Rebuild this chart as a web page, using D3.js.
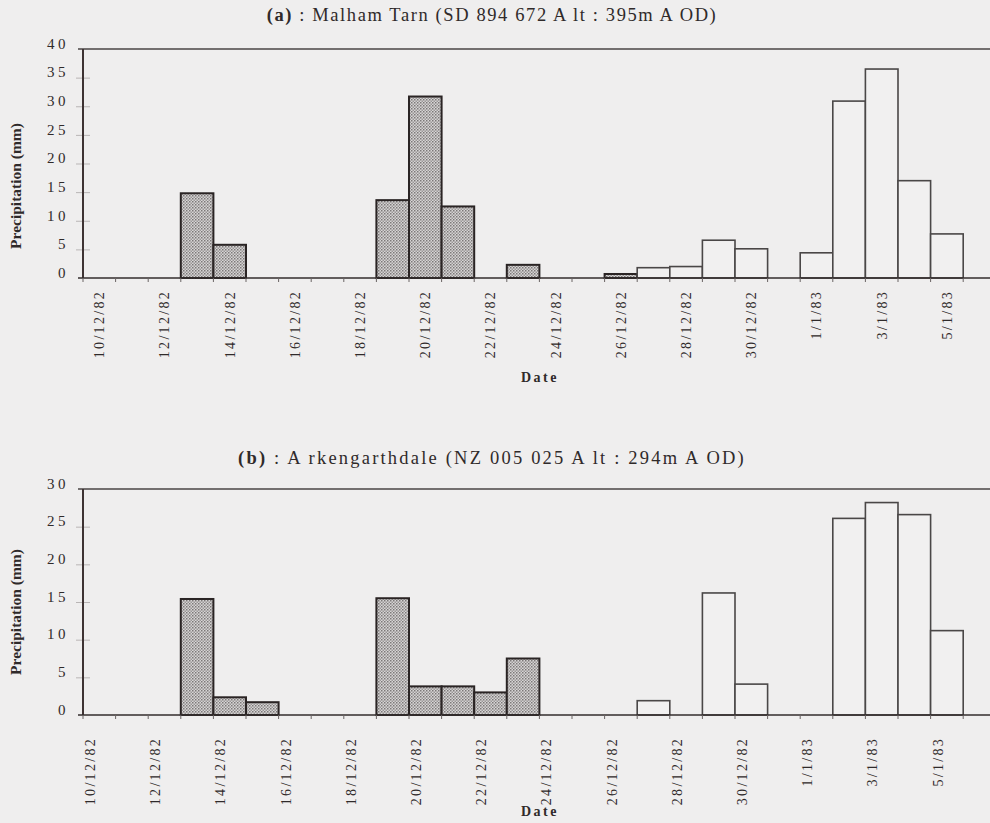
<!DOCTYPE html>
<html>
<head>
<meta charset="utf-8">
<script src="https://cdn.jsdelivr.net/npm/d3@7"></script>
<style>
  body { margin: 0; background: #efeeee; }
  svg { display: block; }
  text { font-family: "Liberation Serif", "DejaVu Serif", serif; fill: #2f2a2a; }
</style>
</head>
<body>
<div id="chart"></div>
<script>
// days on the x axis, 10 Dec 1982 to 6 Jan 1983
const dates = [
  "10/12/82", "11/12/82", "12/12/82", "13/12/82", "14/12/82", "15/12/82", "16/12/82",
  "17/12/82", "18/12/82", "19/12/82", "20/12/82", "21/12/82", "22/12/82", "23/12/82",
  "24/12/82", "25/12/82", "26/12/82", "27/12/82", "28/12/82", "29/12/82", "30/12/82",
  "31/12/82", "1/1/83", "2/1/83", "3/1/83", "4/1/83", "5/1/83", "6/1/83"
];

// daily precipitation (mm)
const malhamTarn = [
  0, 0, 0, 14.8, 5.8, 0, 0, 0, 0, 13.6, 31.7, 12.5, 0, 2.3,
  0, 0, 0.7, 1.8, 2.0, 6.6, 5.1, 0, 4.4, 30.9, 36.5, 17.0, 7.7, 0
];
const arkengarthdale = [
  0, 0, 0, 15.4, 2.35, 1.7, 0, 0, 0, 15.5, 3.8, 3.8, 3.0, 7.5,
  0, 0, 0, 1.9, 0, 16.2, 4.1, 0, 0, 26.1, 28.2, 26.6, 11.2, 0
];

// last day drawn with the shaded fill (open bars after it)
const malhamShadedUntil = "26/12/82";
const arkShadedUntil = "23/12/82";

const yTicksA = [0, 5, 10, 15, 20, 25, 30, 35, 40];
const yTicksB = [0, 5, 10, 15, 20, 25, 30];

const width = 990, height = 823;
const ink = "#332d2d";

const svg = d3.select("#chart")
  .append("svg")
  .attr("width", width)
  .attr("height", height);

const defs = svg.append("defs");
const pat = defs.append("pattern")
  .attr("id", "stipple")
  .attr("width", 3)
  .attr("height", 3)
  .attr("patternUnits", "userSpaceOnUse");
pat.append("rect").attr("width", 3).attr("height", 3).attr("fill", "#d6d5d5");
pat.append("rect").attr("width", 1.5).attr("height", 1.5).attr("fill", "#7c7878");
pat.append("rect").attr("x", 1.5).attr("y", 1.5).attr("width", 1.5).attr("height", 1.5).attr("fill", "#9a9696");

function panel(opts) {
  const { values, shadedUntil, yMax, yTicks, top, bottom, titleY, label, rest, titleSpacing,
          labelShift, labelTop, dateY, yTitleY } = opts;
  const left = 83;

  const x = d3.scaleBand().domain(dates).range([left, left + dates.length * 32.6]).padding(0);
  const y = d3.scaleLinear().domain([0, yMax]).range([bottom, top]);
  const cut = dates.indexOf(shadedUntil);

  const g = svg.append("g");

  // title
  const t = g.append("text")
    .attr("x", 492)
    .attr("y", titleY)
    .attr("text-anchor", "middle")
    .style("font-size", "18.5px")
    .style("letter-spacing", titleSpacing + "px");
  t.append("tspan").attr("font-weight", "bold").text(label);
  t.append("tspan").text(rest);

  // frame top line
  g.append("line")
    .attr("x1", left - 5).attr("x2", width)
    .attr("y1", top).attr("y2", top)
    .attr("stroke", "#4a4444").attr("stroke-width", 1.5);

  // bars
  const data = dates.map((d, i) => ({ date: d, v: values[i], shaded: i <= cut }))
    .filter(d => d.v > 0);
  g.selectAll(".bar")
    .data(data)
    .enter()
    .append("rect")
    .attr("class", "bar")
    .attr("x", d => x(d.date))
    .attr("y", d => y(d.v))
    .attr("width", x.bandwidth())
    .attr("height", d => y(0) - y(d.v))
    .attr("fill", d => (d.shaded ? "url(#stipple)" : "#f1f0f0"))
    .attr("stroke", d => (d.shaded ? "#2a2424" : "#4a4747"))
    .attr("stroke-width", d => (d.shaded ? 2 : 1.6));

  // y axis
  const yAxis = d3.axisLeft(y).tickValues(yTicks).tickSize(0).tickPadding(0);
  const ya = g.append("g").attr("transform", `translate(${left},0)`).call(yAxis);
  ya.select(".domain").remove();
  ya.selectAll(".tick text")
    .attr("x", -14)
    .attr("dy", "-0.05em")
    .style("font-size", "15px")
    .style("letter-spacing", "3.5px")
    .attr("fill", ink)
    .attr("font-family", null);
  ya.selectAll(".tick")
    .filter(d => d > 0 && d < yMax)
    .append("line")
    .attr("x1", -7).attr("x2", 7)
    .attr("stroke", "#b9b5b5").attr("stroke-width", 1);
  g.append("line")
    .attr("x1", left).attr("x2", left)
    .attr("y1", top).attr("y2", bottom)
    .attr("stroke", "#3e3333").attr("stroke-width", 2);

  // x axis
  g.append("line")
    .attr("x1", left - 5).attr("x2", width)
    .attr("y1", bottom).attr("y2", bottom)
    .attr("stroke", ink).attr("stroke-width", 1.5);
  g.selectAll(".xtick")
    .data(dates)
    .enter()
    .append("line")
    .attr("class", "xtick")
    .attr("x1", d => x(d)).attr("x2", d => x(d))
    .attr("y1", bottom).attr("y2", bottom + 4)
    .attr("stroke", "#6a6464").attr("stroke-width", 1);

  g.selectAll(".xlab")
    .data(dates.filter((d, i) => i % 2 === 0))
    .enter()
    .append("text")
    .attr("class", "xlab")
    .attr("transform", d => `translate(${x(d) + x.bandwidth() * labelShift},${labelTop}) rotate(-90)`)
    .attr("text-anchor", "end")
    .attr("dy", "0.35em")
    .style("font-size", "14px")
    .style("letter-spacing", "2.3px")
    .attr("fill", "#3a3434")
    .text(d => d);

  g.append("text")
    .attr("x", 540)
    .attr("y", dateY)
    .attr("text-anchor", "middle")
    .attr("font-weight", "bold")
    .style("font-size", "14px")
    .style("letter-spacing", "2.5px")
    .text("Date");

  g.append("text")
    .attr("transform", `translate(21,${yTitleY}) rotate(-90)`)
    .attr("text-anchor", "middle")
    .attr("font-weight", "bold")
    .style("font-size", "15.5px")
    .text("Precipitation (mm)");
}

panel({
  values: malhamTarn, shadedUntil: malhamShadedUntil, yMax: 40, yTicks: yTicksA,
  top: 49, bottom: 278, titleY: 21, titleSpacing: 1.6,
  label: "(a)", rest: " : Malham Tarn (SD 894 672 A lt : 395m A OD)",
  labelShift: 0.5, labelTop: 290, dateY: 382, yTitleY: 186
});

panel({
  values: arkengarthdale, shadedUntil: arkShadedUntil, yMax: 30, yTicks: yTicksB,
  top: 489, bottom: 715, titleY: 464, titleSpacing: 2.2,
  label: "(b)", rest: " : A rkengarthdale (NZ 005 025 A lt : 294m A OD)",
  labelShift: 0.22, labelTop: 737, dateY: 816, yTitleY: 612
});
</script>
</body>
</html>
